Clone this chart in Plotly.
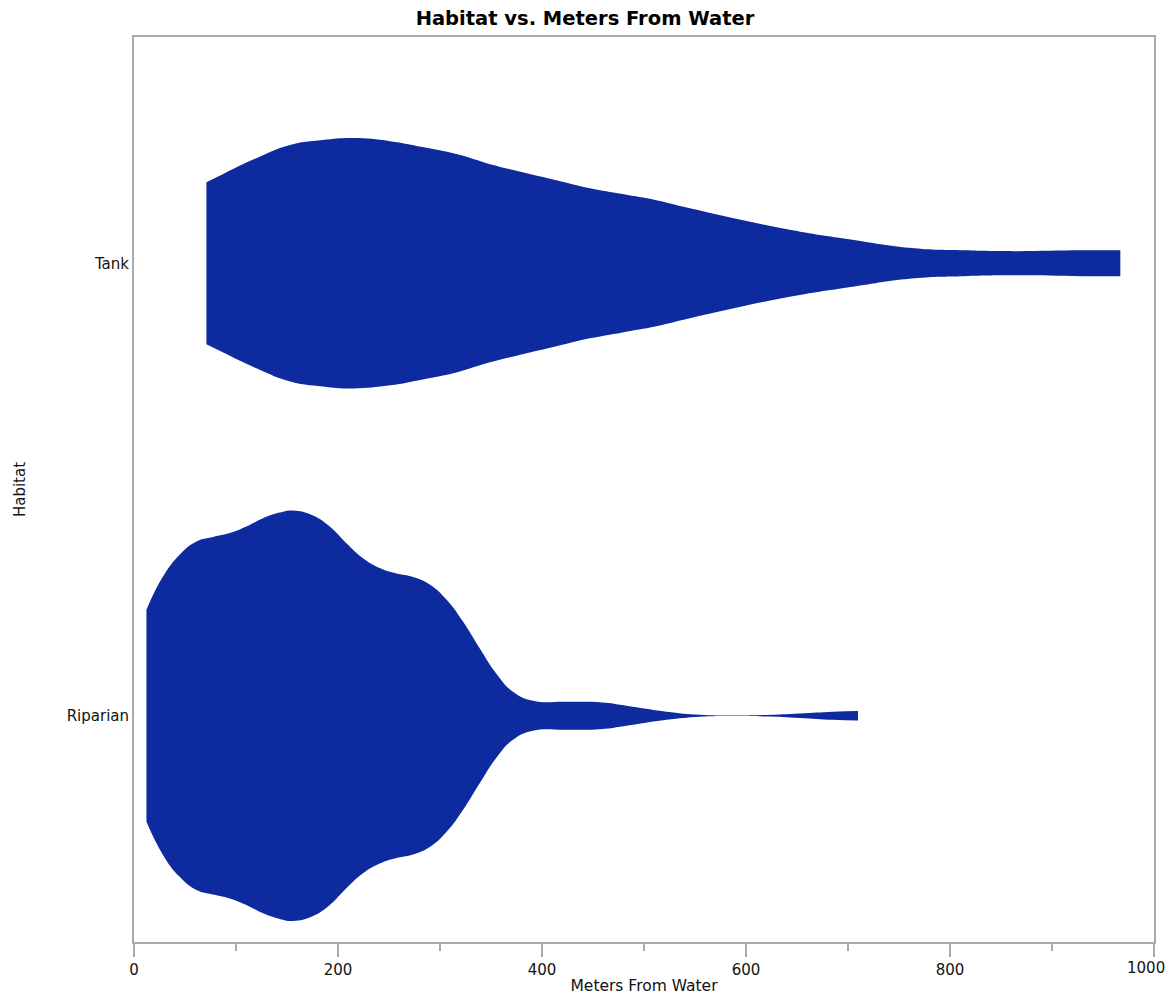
import plotly.graph_objects as go

# Categories (bottom to top)
habitats = ["Riparian", "Tank"]

# Riparian: distance grid (m) and relative KDE density
riparian_m = [12.2, 28.4, 44.8, 61.2, 77.5, 93.8, 110.2, 126.5, 142.8, 155.9,
              175.5, 191.9, 208.2, 224.5, 240.9, 257.3, 273.5, 289.9, 306.3, 322.5,
              338.9, 355.3, 371.6, 391.2, 423.9, 456.6, 489.2, 522.0, 554.6, 587.3,
              620.0, 652.6, 685.3, 709.8]
riparian_density = [0.517, 0.678, 0.785, 0.849, 0.871, 0.890, 0.922, 0.963, 0.990, 1.000,
                    0.976, 0.922, 0.841, 0.768, 0.720, 0.693, 0.676, 0.639, 0.566, 0.459,
                    0.329, 0.205, 0.117, 0.073, 0.068, 0.066, 0.044, 0.020, 0.005, 0.0015,
                    0.004, 0.011, 0.020, 0.023]

# Tank: distance grid (m) and relative KDE density
tank_m = [71, 87, 120, 153, 185, 215, 251, 283, 316, 349, 381, 414, 447, 479, 512,
          545, 635, 701, 765, 814, 863, 929, 967]
tank_density = [0.395, 0.434, 0.512, 0.576, 0.600, 0.610, 0.595, 0.566, 0.532, 0.483,
                0.444, 0.405, 0.366, 0.337, 0.307, 0.268, 0.171, 0.117, 0.073, 0.063,
                0.059, 0.063, 0.063]

x_ticks = [0, 200, 400, 600, 800, 1000]
x_ticklabels = ["0", "200", "400", "600", "800", "1000"]

FILL = "rgb(13,42,158)"
GRAY = "#aaaaaa"
WIDTH_SCALE = 0.4535  # half-width (in category units) of a density of 1.0

fig = go.Figure()
series = {"Riparian": (riparian_m, riparian_density), "Tank": (tank_m, tank_density)}
for idx, name in enumerate(habitats):
    xs, dens = series[name]
    lower = [idx - d * WIDTH_SCALE for d in dens]
    upper = [idx + d * WIDTH_SCALE for d in dens]
    fig.add_trace(go.Scatter(x=xs, y=lower, mode="lines",
                             line=dict(width=0, shape="spline", smoothing=1.3, color=FILL),
                             showlegend=False, hoverinfo="skip"))
    fig.add_trace(go.Scatter(x=xs, y=upper, mode="lines", fill="tonexty",
                             fillcolor=FILL,
                             line=dict(width=0, shape="spline", smoothing=1.3, color=FILL),
                             name=name, showlegend=False))

# the last tick label sits at the right edge of the page: keep it inside
last_label = x_ticklabels[-1]
shown_labels = x_ticklabels[:-1] + [""]

fig.update_layout(
    width=1170, height=998,
    margin=dict(l=134, r=16, t=37, b=56, autoexpand=False),
    plot_bgcolor="white", paper_bgcolor="white",
    font=dict(family="DejaVu Sans", size=15, color="#111111"),
    title=dict(text="<b>Habitat vs. Meters From Water</b>", x=0.5, xref="container",
               xanchor="center",
               y=1 - 18 / 998, yref="container", yanchor="middle",
               font=dict(size=19.5, color="black")),
    annotations=[dict(text=last_label, x=x_ticks[-1], xref="x", y=0, yref="paper",
                      xanchor="right", yanchor="top", xshift=13, yshift=-15,
                      showarrow=False, font=dict(size=15, color="#111111"))],
)
fig.update_xaxes(
    range=[0, 1000], tickvals=x_ticks, ticktext=shown_labels, ticks="outside",
    ticklen=13, tickwidth=2,
    tickcolor=GRAY, showline=True, linecolor=GRAY, linewidth=2, mirror=True,
    showgrid=False, zeroline=False,
    minor=dict(dtick=100, tick0=0, ticks="outside", ticklen=7, tickwidth=2, tickcolor=GRAY, showgrid=False),
    title=dict(text="Meters From Water", standoff=2, font=dict(size=15.5)),
    tickfont=dict(size=15),
)
fig.update_yaxes(
    range=[-0.5, 1.5], tickvals=[0, 1], ticktext=habitats, ticks="",
    showline=True, linecolor=GRAY, linewidth=2, mirror=True,
    showgrid=False, zeroline=False,
    title=dict(text="Habitat", standoff=37, font=dict(size=15)),
    tickfont=dict(size=15),
)

fig.write_html("out.html")
